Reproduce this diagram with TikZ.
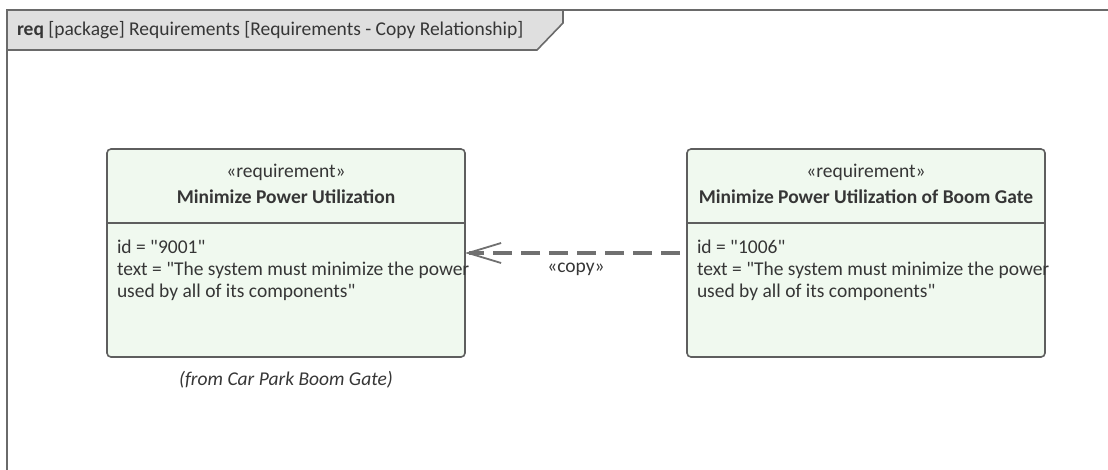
\documentclass[tikz,border=0pt]{standalone}
\usepackage{fontspec}
\setmainfont{Carlito}
\usetikzlibrary{arrows.meta}
\definecolor{framec}{HTML}{6A6A6A}
\definecolor{tabfill}{HTML}{DFDFDF}
\definecolor{reqfill}{HTML}{F0F9EF}
\definecolor{reqline}{HTML}{5E5E5E}
\definecolor{txtc}{HTML}{363636}
\definecolor{arrowc}{HTML}{707070}
\newcommand{\dq}{\textquotedbl}
\begin{document}
\begin{tikzpicture}[x=1pt,y=-1pt,
  every node/.style={font=\fontsize{19.5}{22}\selectfont, text=txtc, inner sep=0pt, outer sep=0pt},
  reqbox/.style={draw=reqline, fill=reqfill, line width=1.6pt, rounded corners=4pt,
                 minimum width=358pt, minimum height=208pt},
  divider/.style={draw=reqline, line width=1.6pt},
  attr/.style={anchor=base west, align=left},
  stereo/.style={anchor=base},
  copyline/.style={draw=arrowc, line width=4pt, dash pattern=on 19pt off 9pt, shorten <=7pt,
                   -{Straight Barb[length=33pt, width=20pt, line width=1.8pt]}},
  framestyle/.style={draw=framec, line width=2pt},
  tabstyle/.style={draw=framec, line width=1.6pt, fill=tabfill}
]
\useasboundingbox (0,0) rectangle (1108,469);
% frame
\begin{scope}
  \clip (0,0) rectangle (1108,469);
  \draw[framestyle] (7,10) rectangle (1130,490);
\end{scope}
\draw[tabstyle] (7,10) -- (563,10) -- (563,23) -- (537,50) -- (7,50) -- cycle;
\draw[framestyle] (7,10) -- (1108,10);
\node[anchor=base west] (hdr) at (17,35) {\textbf{req} [package] Requirements [Requirements - Copy Relationship]};

% left requirement
\node[reqbox] (L) at (286,253) {};
\draw[divider] ([yshift=-74pt]L.north west) -- ([yshift=-74pt]L.north east);
\node[stereo] (Ls) at (286,177) {«requirement»};
\node[stereo] (Lt) at (286,203) {\textbf{Minimize Power Utilization}};
\node[attr] (La1) at (117,253) {id = \dq9001\dq};
\node[attr] (La2) at (117,275) {text = \dq The system must minimize the power};
\node[attr] (La3) at (117,297) {used by all of its components\dq};
\node[anchor=base] (Lfrom) at (286,385) {\itshape (from Car Park Boom Gate)};

% right requirement
\node[reqbox] (R) at (866,253) {};
\draw[divider] ([yshift=-74pt]R.north west) -- ([yshift=-74pt]R.north east);
\node[stereo] (Rs) at (866,177) {«requirement»};
\node[stereo] (Rt) at (866,203) {\textbf{Minimize Power Utilization of Boom Gate}};
\node[attr] (Ra1) at (697,253) {id = \dq1006\dq};
\node[attr] (Ra2) at (697,275) {text = \dq The system must minimize the power};
\node[attr] (Ra3) at (697,297) {used by all of its components\dq};

% copy relationship
\draw[copyline] (R.west) -- node[below=10pt] (cp) {«copy»} (L.east);
\end{tikzpicture}
\end{document}
